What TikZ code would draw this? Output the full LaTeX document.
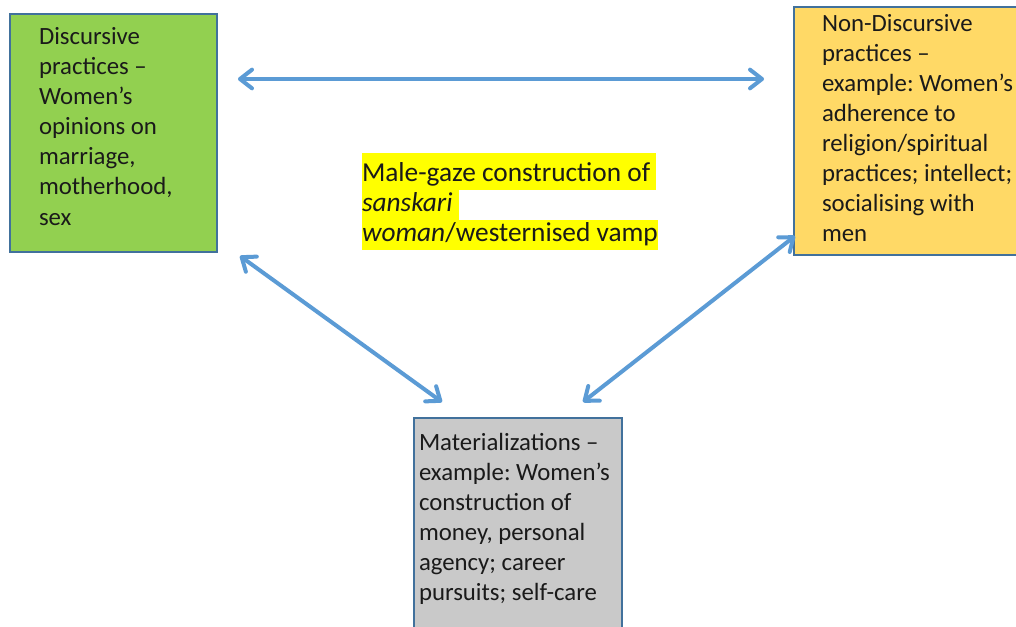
\documentclass[tikz,border=0pt]{standalone}
\usepackage{fontspec}
\setmainfont{Carlito}
\usetikzlibrary{arrows.meta,calc}
\definecolor{arrowblue}{HTML}{5B9BD5}
\definecolor{boxborder}{HTML}{41719C}
\definecolor{greenfill}{HTML}{92D050}
\definecolor{orangefill}{HTML}{FFD966}
\definecolor{grayfill}{HTML}{C9C9C9}
\definecolor{hlyellow}{HTML}{FFFF00}
\definecolor{txt}{HTML}{1A1A1A}
\setlength{\fboxsep}{0pt}
\setlength{\lineskiplimit}{-100pt}
\frenchspacing
\newcommand\hltop[1]{\colorbox{hlyellow}{\rule[-6pt]{0pt}{27.75pt}#1}}
\newcommand\hlline[1]{\colorbox{hlyellow}{\rule[-6pt]{0pt}{22.5pt}#1}}
\begin{document}
\begin{tikzpicture}[x=0.75pt,y=-0.75pt,
  box/.style={draw=boxborder, line width=1.5pt, anchor=north west, inner sep=0pt, outer sep=0pt},
  boxtext/.style={anchor=north west, inner sep=0pt, outer sep=0pt, align=left, text=txt,
    font=\fontsize{18.6pt}{22.5pt}\selectfont},
  hltext/.style={boxtext, font=\fontsize{20.5pt}{22.5pt}\selectfont},
  biarrow/.style={draw=arrowblue, line width=3pt, line cap=round,
    {Straight Barb[round,length=9pt,width=14pt]}-{Straight Barb[round,length=9pt,width=14pt]}}]
\useasboundingbox (0,0) rectangle (1016,627);
\clip (0,0) rectangle (1016,627);
\fill[white] (0,0) rectangle (1016,627);
\node[box, fill=greenfill, minimum width=155.25pt, minimum height=178.5pt] (green) at (10,14) {};
\node[box, fill=orangefill, minimum width=187.5pt, minimum height=186pt] (orange) at (794,7) {};
\node[box, fill=grayfill, minimum width=156pt, minimum height=180pt] (gray) at (414,418) {};
\node[boxtext] (greentext) at (39,24) {\strut Discursive\\practices –\\Women’s\\opinions on\\marriage,\\motherhood,\\sex};
\node[boxtext] (orangetext) at (822,11) {\strut Non-Discursive\\practices –\\example: Women’s\\adherence to\\religion/spiritual\\practices; intellect;\\socialising with\\men};
\node[boxtext] (graytext) at (419,429) {\strut Materializations –\\example: Women’s\\construction of\\money, personal\\agency; career\\pursuits; self-care};
\node[hltext] (centre) at (362,153) {\hltop{Male-gaze construction of\ }\\\hlline{\textit{sanskari}\ }\\\hlline{\textit{woman}/westernised vamp}};
\draw[biarrow] ($(green.north east)+(21,65)$) -- ($(orange.north west)+(-30,72)$);
\draw[biarrow] ($(green.south east)+(23,4)$) -- ($(gray.north west)+(28,-16)$);
\draw[biarrow] ($(orange.south west)+(1,-19)$) -- ($(gray.north east)+(-39,-16)$);
\end{tikzpicture}
\end{document}
